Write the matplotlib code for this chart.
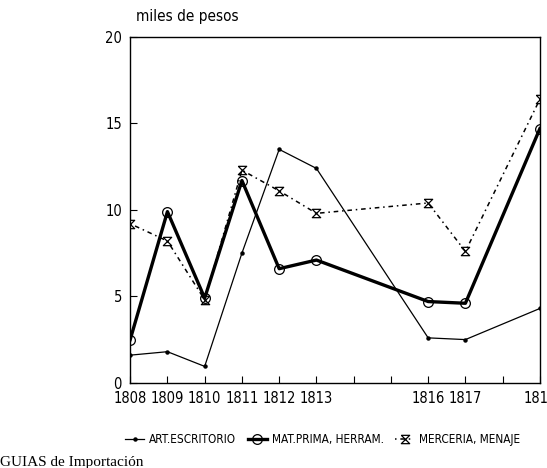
import matplotlib
matplotlib.use("Agg")
import matplotlib.pyplot as plt
from matplotlib.path import Path

plt.rcParams['font.family'] = ['DejaVu Sans']
plt.rcParams['font.stretch'] = 'condensed'

years = [1808, 1809, 1810, 1811, 1812, 1813, 1816, 1817, 1819]
art_escritorio = [1.6, 1.8, 0.95, 7.5, 13.5, 12.4, 2.6, 2.5, 4.3]
mat_prima = [2.5, 9.9, 4.9, 11.7, 6.6, 7.1, 4.7, 4.6, 14.7]
merceria = [9.2, 8.2, 4.8, 12.3, 11.1, 9.8, 10.4, 7.6, 16.4]
tick_years = list(range(1808, 1820))
shown_labels = [1808, 1809, 1810, 1811, 1812, 1813, 1816, 1817, 1819]

# hourglass marker
hourglass = Path([(-1, 1), (1, 1), (-1, -1), (1, -1), (-1, 1)],
                 [Path.MOVETO, Path.LINETO, Path.LINETO, Path.LINETO, Path.LINETO])

fig = plt.figure(figsize=(5.47, 4.68), dpi=100)
ax = fig.add_axes([0.238, 0.182, 0.749, 0.739])

ax.plot(years, art_escritorio, color="black", lw=0.9, marker="o", markersize=2.2,
        label="ART.ESCRITORIO")
ax.plot(years, mat_prima, color="black", lw=2.4, marker="o", markersize=7,
        markerfacecolor="none", markeredgewidth=0.9, label="MAT.PRIMA, HERRAM.")
ax.plot(years, merceria, color="black", lw=1.1, linestyle=(0, (1, 2.5, 3, 2.5)),
        marker=hourglass, markersize=6, markerfacecolor="none", markeredgewidth=0.9,
        label="MERCERIA, MENAJE")

ax.set_xlim(1808, 1819)
ax.set_ylim(0, 20)
ax.set_yticks([0, 5, 10, 15, 20])
ax.set_xticks(tick_years)
ax.set_xticklabels([str(y) if y in shown_labels else "" for y in tick_years])
ax.tick_params(direction="in", length=5, labelsize=10.5, pad=6)
for s in ax.spines.values():
    s.set_linewidth(1.0)

fig.text(0.248, 0.955, "miles de pesos", fontsize=11)

ax.legend(loc="upper center", bbox_to_anchor=(0.47, -0.115), ncol=3, frameon=False,
          fontsize=8.5, handlelength=1.6, columnspacing=1.0, handletextpad=0.4)

fig.text(0.0, 0.005, "GUIAS de Importación", fontsize=11, family="Liberation Serif")

fig.savefig("out.png", dpi=100, facecolor="white")
